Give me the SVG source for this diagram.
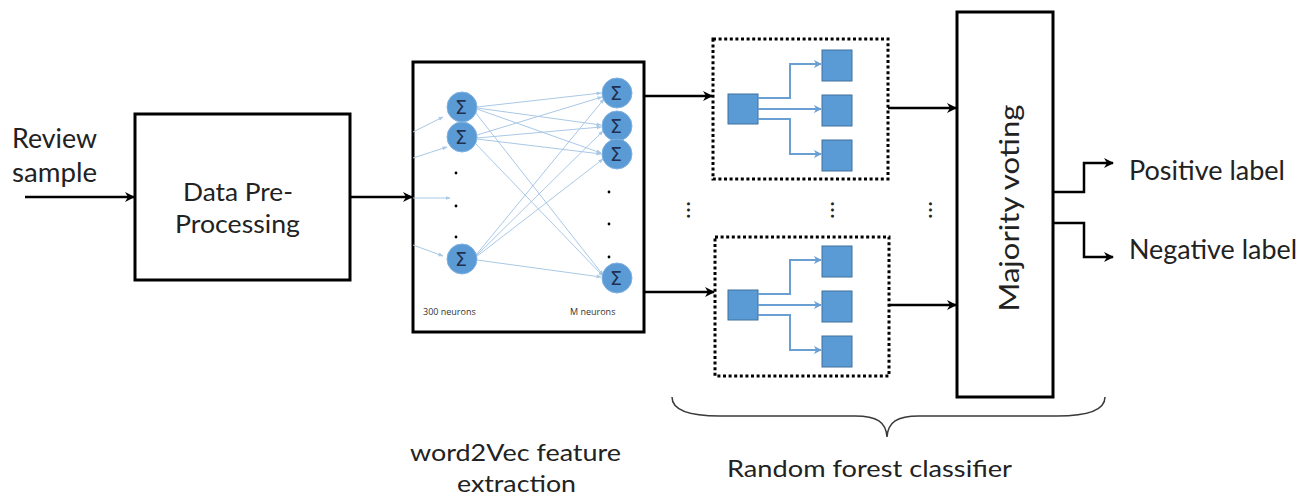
<svg xmlns="http://www.w3.org/2000/svg" width="1313" height="497" viewBox="0 0 1313 497">
  <style>
    .lbl { font-family: Lato, "Open Sans", "Liberation Sans", sans-serif; fill: #222; }
    .box { fill: #fff; stroke: #000; stroke-width: 3; }
    .dot-box { fill: none; stroke: #000; stroke-width: 3; stroke-dasharray: 3 2.6; }
    .flow { fill: none; stroke: #000; stroke-width: 2.5; marker-end: url(#arrow); }
    .neuron { fill: #5b9bd5; stroke: #7fb0e0; stroke-width: 1; }
    .sigma { font-family: "DejaVu Sans", "Liberation Sans", sans-serif; font-size: 19px; fill: #1f3050; text-anchor: middle; }
    .syn { fill: none; stroke: #a9c8e6; stroke-width: 1; marker-end: url(#tiny); }
    .leaf { fill: #5b9bd5; stroke: #41719c; stroke-width: 1; }
    .branch { fill: none; stroke: #6a9fd4; stroke-width: 2; marker-end: url(#blue); }
    .small { font-family: "Open Sans", "Liberation Sans", sans-serif; font-size: 9px; fill: #333; }
    .ell { fill: #000; }
  </style>
  <defs>
    <marker id="arrow" viewBox="0 0 10 10" refX="9" refY="5" markerWidth="4" markerHeight="4" orient="auto" markerUnits="strokeWidth">
      <path d="M0,0 L10,5 L0,10 L3,5 z" fill="#000"/>
    </marker>
    <marker id="tiny" viewBox="0 0 10 10" refX="9" refY="5" markerWidth="5" markerHeight="5" orient="auto" markerUnits="strokeWidth">
      <path d="M0,1 L10,5 L0,9 z" fill="#a9c8e6"/>
    </marker>
    <marker id="blue" viewBox="0 0 10 10" refX="9" refY="5" markerWidth="4" markerHeight="4" orient="auto" markerUnits="strokeWidth">
      <path d="M0,0 L10,5 L0,10 L3,5 z" fill="#6a9fd4"/>
    </marker>
    <!-- one decision tree: root node splitting into three leaves -->
    <g id="tree">
      <rect class="leaf" x="728" y="94" width="30" height="30"/>
      <rect class="leaf" x="822" y="50" width="30" height="31"/>
      <rect class="leaf" x="822" y="95" width="30" height="31"/>
      <rect class="leaf" x="822" y="140" width="30" height="31"/>
      <path class="branch" d="M758,98 H790 V64 H821"/>
      <path class="branch" d="M758,109 H821"/>
      <path class="branch" d="M758,119 H790 V154 H821"/>
    </g>
  </defs>

  <!-- input -->
  <g id="input">
    <text class="lbl" font-size="26" x="12" y="148" textLength="85" lengthAdjust="spacingAndGlyphs">Review</text>
    <text class="lbl" font-size="26" x="12" y="182" textLength="85" lengthAdjust="spacingAndGlyphs">sample</text>
  </g>

  <g id="preprocess">
    <rect class="box" x="135" y="114" width="215" height="166"/>
    <text class="lbl" font-size="25" x="183" y="201" textLength="110" lengthAdjust="spacingAndGlyphs">Data Pre-</text>
    <text class="lbl" font-size="25" x="175" y="233" textLength="125" lengthAdjust="spacingAndGlyphs">Processing</text>
  </g>

  <!-- word2vec network -->
  <g id="word2vec">
    <rect class="box" x="413" y="62" width="231" height="270"/>
    <g id="inputs">
      <line class="syn" x1="413" y1="132" x2="443" y2="117"/>
      <line class="syn" x1="413" y1="158" x2="447" y2="147"/>
      <line class="syn" x1="413" y1="198" x2="450" y2="198"/>
      <line class="syn" x1="413" y1="245" x2="443" y2="256"/>
    </g>
    <g id="synapses">
      <line class="syn" x1="477" y1="107" x2="601" y2="93"/>
      <line class="syn" x1="477" y1="108" x2="601" y2="125"/>
      <line class="syn" x1="477" y1="109" x2="601" y2="153"/>
      <line class="syn" x1="475" y1="112" x2="603" y2="275"/>
      <line class="syn" x1="477" y1="135" x2="602" y2="97"/>
      <line class="syn" x1="477" y1="138" x2="601" y2="127"/>
      <line class="syn" x1="477" y1="139" x2="601" y2="154"/>
      <line class="syn" x1="475" y1="143" x2="603" y2="276"/>
      <line class="syn" x1="476" y1="255" x2="604" y2="99"/>
      <line class="syn" x1="476" y1="256" x2="603" y2="131"/>
      <line class="syn" x1="476" y1="257" x2="603" y2="159"/>
      <line class="syn" x1="477" y1="260" x2="601" y2="277"/>
    </g>
    <g id="layer-in">
      <circle class="neuron" cx="462" cy="107" r="15"/>
      <text class="sigma" x="461" y="114">Σ</text>
      <circle class="neuron" cx="462" cy="137" r="15"/>
      <text class="sigma" x="461" y="144">Σ</text>
      <circle class="neuron" cx="462" cy="259" r="15"/>
      <text class="sigma" x="461" y="266">Σ</text>
      <circle class="ell" cx="456" cy="173" r="1.4"/>
      <circle class="ell" cx="456" cy="206" r="1.4"/>
      <circle class="ell" cx="456" cy="237" r="1.4"/>
    </g>
    <g id="layer-out">
      <circle class="neuron" cx="617" cy="93" r="15"/>
      <text class="sigma" x="616" y="100">Σ</text>
      <circle class="neuron" cx="617" cy="126" r="15"/>
      <text class="sigma" x="616" y="133">Σ</text>
      <circle class="neuron" cx="617" cy="154" r="15"/>
      <text class="sigma" x="616" y="161">Σ</text>
      <circle class="neuron" cx="617" cy="278" r="15"/>
      <text class="sigma" x="616" y="285">Σ</text>
      <circle class="ell" cx="609" cy="192" r="1.4"/>
      <circle class="ell" cx="609" cy="224" r="1.4"/>
      <circle class="ell" cx="609" cy="257" r="1.4"/>
    </g>
    <text class="small" x="423" y="315">300 neurons</text>
    <text class="small" x="570" y="315">M neurons</text>
  </g>

  <!-- random forest: two trees shown -->
  <g id="tree-top">
    <rect class="dot-box" x="713" y="39" width="175" height="140"/>
    <use href="#tree"/>
  </g>
  <g id="tree-bottom">
    <rect class="dot-box" x="715" y="237" width="174" height="139"/>
    <use href="#tree" transform="translate(0,196)"/>
  </g>

  <g id="ellipses">
    <text class="lbl" font-size="24" text-anchor="middle" x="689" y="212" transform="rotate(90 689 210)">…</text>
    <text class="lbl" font-size="24" text-anchor="middle" x="833" y="212" transform="rotate(90 833 210)">…</text>
    <text class="lbl" font-size="24" text-anchor="middle" x="931" y="212" transform="rotate(90 931 210)">…</text>
  </g>

  <g id="voting">
    <rect class="box" x="957" y="12" width="96" height="385"/>
    <text class="lbl" font-size="27" text-anchor="middle" transform="translate(1019,208) rotate(-90)" textLength="207" lengthAdjust="spacingAndGlyphs">Majority voting</text>
  </g>

  <g id="outputs">
    <text class="lbl" font-size="26" x="1129" y="180" textLength="156" lengthAdjust="spacingAndGlyphs">Positive label</text>
    <text class="lbl" font-size="26" x="1129" y="259" textLength="168" lengthAdjust="spacingAndGlyphs">Negative label</text>
  </g>

  <!-- connectors -->
  <g id="connectors">
    <line class="flow" x1="25" y1="197" x2="134" y2="197"/>
    <line class="flow" x1="350" y1="197" x2="412" y2="197"/>
    <line class="flow" x1="644" y1="96" x2="712" y2="96"/>
    <line class="flow" x1="644" y1="292" x2="714" y2="292"/>
    <line class="flow" x1="888" y1="108" x2="956" y2="108"/>
    <line class="flow" x1="889" y1="305" x2="956" y2="305"/>
    <path class="flow" d="M1053,192 H1084 V163 H1113"/>
    <path class="flow" d="M1053,223 H1084 V257 H1113"/>
  </g>

  <!-- grouping brace under the forest -->
  <g id="brace">
    <path d="M672,397 C672,410 690,416 720,416 L855,416 C877,416 886,422 887,437 C888,422 897,416 919,416 L1057,416 C1087,416 1105,410 1105,397" fill="none" stroke="#3a3a3a" stroke-width="1.5"/>
  </g>

  <g id="captions">
    <text class="lbl" font-size="24" x="410" y="461" textLength="211" lengthAdjust="spacingAndGlyphs">word2Vec feature</text>
    <text class="lbl" font-size="24" x="457" y="492" textLength="119" lengthAdjust="spacingAndGlyphs">extraction</text>
    <text class="lbl" font-size="24" x="727" y="477" textLength="285" lengthAdjust="spacingAndGlyphs">Random forest classifier</text>
  </g>
</svg>
